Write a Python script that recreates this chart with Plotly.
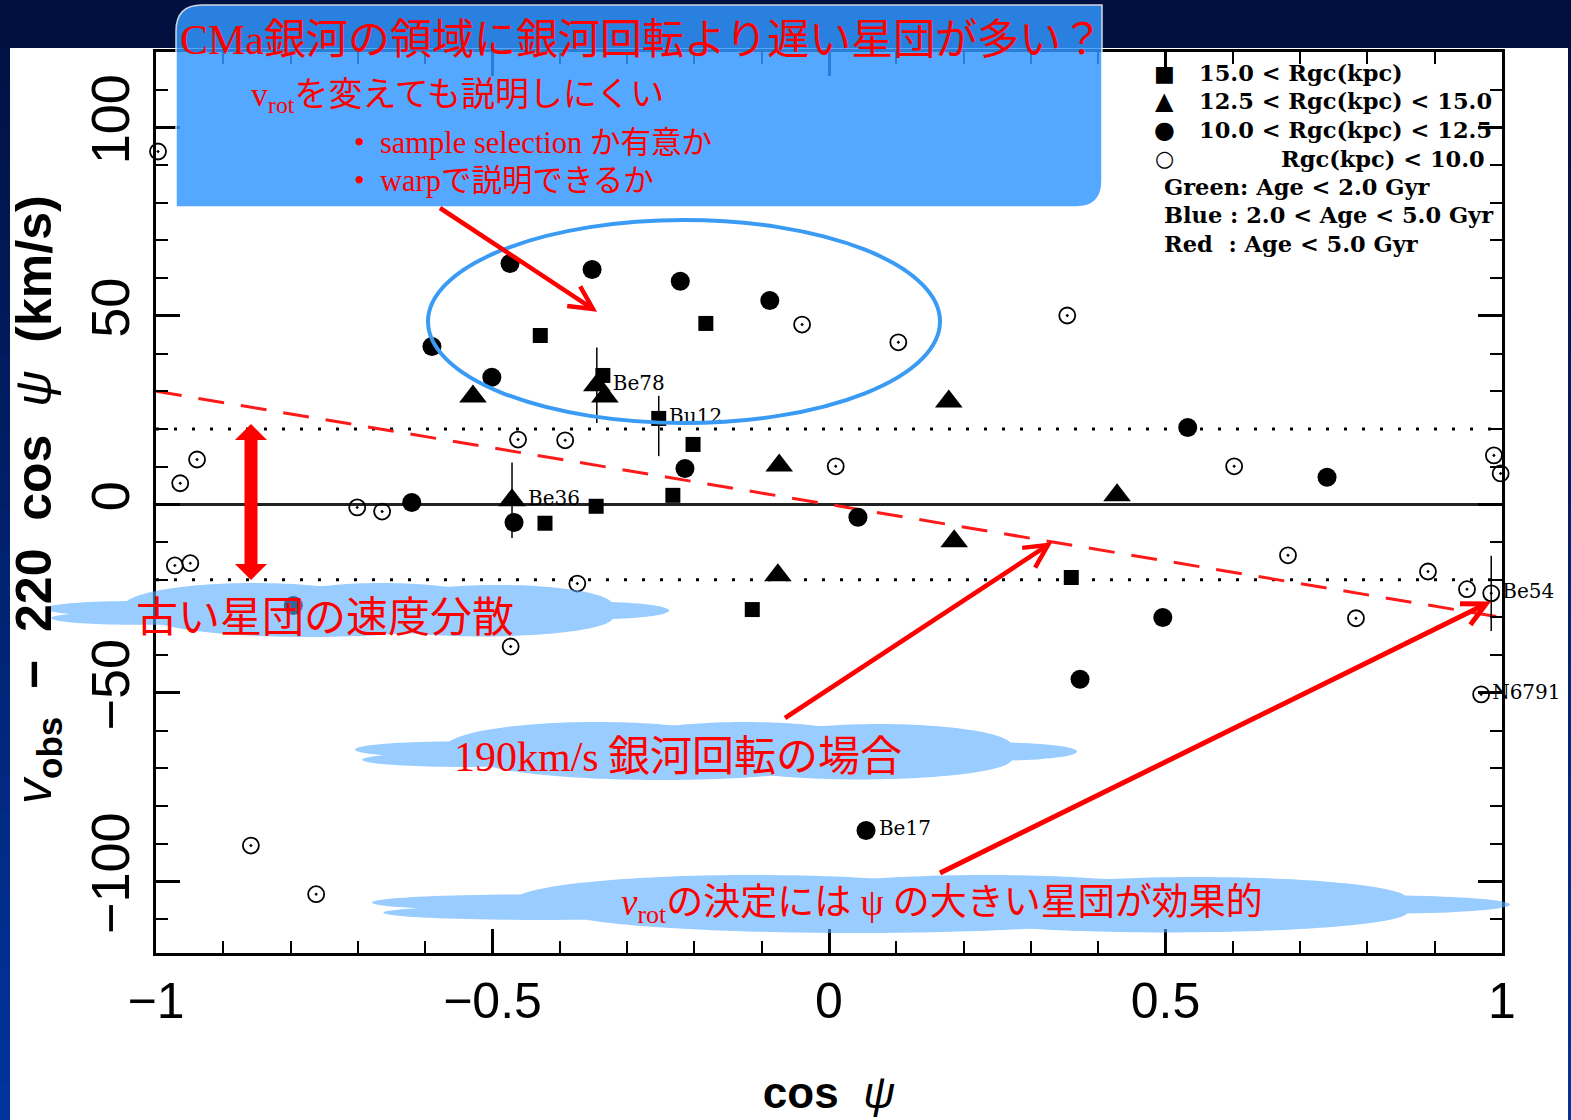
import numpy as np
import plotly.graph_objects as go

# ---------------------------------------------------------------
# Open clusters: residual velocity v_obs - 220 cos(psi) vs cos(psi)
# grouped by Galactocentric radius Rgc
# ---------------------------------------------------------------

# 15.0 < Rgc (filled squares)
far_x = [-0.429, -0.183, -0.336, -0.253, -0.202, -0.232, -0.346, -0.422, -0.114, 0.360]
far_y = [44.8, 48.0, 34.2, 22.8, 15.9, 2.4, -0.5, -5.0, -27.9, -19.4]
far_err_hi = [0, 0, 0, 6, 0, 0, 0, 0, 0, 0]
far_err_lo = [0, 0, 0, 10, 0, 0, 0, 0, 0, 0]
far_names = ["", "", "", "Bu12", "", "", "", "", "", ""]

# 12.5 < Rgc < 15.0 (filled triangles)
mid_x = [-0.529, -0.345, -0.333, -0.471, -0.074, 0.178, 0.186, 0.428, -0.076]
mid_y = [28.6, 31.6, 28.6, 1.1, 10.3, 27.3, -9.8, 2.4, -18.8]
mid_err = [0, 10, 0, 10, 0, 0, 0, 0, 0]
mid_names = ["", "Be78", "", "Be36", "", "", "", "", ""]

# 10.0 < Rgc < 12.5 (filled circles)
near_x = [-0.474, -0.352, -0.221, -0.088, -0.590, -0.501, -0.620, -0.468,
          -0.214, 0.043, 0.533, 0.740, 0.496, 0.373, -0.796, 0.055]
near_y = [63.9, 62.3, 59.2, 54.1, 41.9, 33.7, 0.5, -4.8,
          9.5, -3.4, 20.4, 7.2, -30.0, -46.4, -26.8, -86.5]
near_names = [""] * 15 + ["Be17"]

# Rgc < 10.0 (open circles)
inner_x = [-0.997, -0.964, -0.939, -0.972, -0.949, -0.701, -0.664, -0.462, -0.392,
           -0.374, -0.473, -0.859, -0.762, -0.040, 0.103, 0.010, 0.354, 0.602,
           0.682, 0.783, 0.890, 0.948, 0.988, 0.998, 0.984, 0.969]
inner_y = [93.6, 5.6, 11.9, -16.2, -15.6, -0.8, -1.9, 17.2, 17.0,
           -21.0, -37.7, -90.5, -103.4, 47.7, 43.0, 10.1, 50.1, 10.1,
           -13.5, -30.2, -17.8, -22.5, 13.0, 8.2, -23.6, -50.4]
inner_err = [0] * 24 + [10, 0]
inner_names = [""] * 24 + ["Be54", "N6791"]

# velocity dispersion band of old clusters (km/s)
disp_band = [-20, 20]

# residual expected for a 190 km/s rotation curve
model_x = [-1.0, 1.0]
model_y = [30.0, -30.0]

x_ticks = [-1, -0.5, 0, 0.5, 1]
x_ticktext = ["\u22121", "\u22120.5", "0", "0.5", "1"]
y_ticks = [-100, -50, 0, 50, 100]
y_ticktext = ["\u2212100", "\u221250", "0", "50", "100"]

key_lines = [
    ("\u25a0", "15.0 < Rgc(kpc)"),
    ("\u25b2", "12.5 < Rgc(kpc) < 15.0"),
    ("\u25cf", "10.0 < Rgc(kpc) < 12.5"),
    ("\u25cb", "Rgc(kpc) < 10.0"),
]
age_lines = ["Green: Age < 2.0 Gyr", "Blue : 2.0 < Age < 5.0 Gyr", "Red\u00a0\u00a0: Age < 5.0 Gyr"]

# ---------------------------------------------------------------
W, H = 1571, 1120
L, R, T, B = 156, 1502, 52, 953
PW, PH = R - L, B - T


def fx(px):
    return (px - L) / PW


def fy(py):
    return (B - py) / PH


def pt(px, py):
    return f"{fx(px):.5f},{fy(py):.5f}"


RED = "#FF0000"
JP_SERIF = "Liberation Serif, Noto Sans CJK JP"
JP_SANS = "Noto Sans CJK JP"

fig = go.Figure()

label_font = dict(family="DejaVu Serif", size=20, color="black")

fig.add_trace(go.Scatter(
    x=model_x, y=model_y, mode="lines",
    line=dict(color="#FF1A1A", width=3, dash="26px,17px"),
    hoverinfo="skip", showlegend=False))


def cluster_traces(xs, ys, names, marker, err=None):
    pts = go.Scatter(x=xs, y=ys, mode="markers", marker=marker, error_y=err,
                     cliponaxis=False, showlegend=False)
    idx = [i for i, n in enumerate(names) if n]
    lab = go.Scatter(x=[xs[i] for i in idx], y=[ys[i] for i in idx],
                     text=[names[i] for i in idx], mode="markers+text",
                     textposition="middle right", textfont=label_font,
                     marker=dict(size=marker["size"], opacity=0),
                     hoverinfo="skip", cliponaxis=False, showlegend=False)
    return [pts, lab]


fig.add_traces(cluster_traces(
    inner_x, inner_y, inner_names,
    dict(symbol="circle-open-dot", size=16, color="black", line=dict(width=1.8, color="black")),
    dict(type="data", array=inner_err, color="black", thickness=1.5, width=0)))

fig.add_traces(cluster_traces(
    near_x, near_y, near_names,
    dict(symbol="circle", size=19, color="black", line=dict(width=0))))

fig.add_traces(cluster_traces(
    far_x, far_y, far_names,
    dict(symbol="square", size=15, color="black", line=dict(width=0)),
    dict(type="data", symmetric=False, array=far_err_hi, arrayminus=far_err_lo,
         color="black", thickness=1.5, width=0)))

fig.add_traces(cluster_traces(
    mid_x, mid_y, mid_names,
    dict(symbol="triangle-up", size=24, color="black", line=dict(width=0)),
    dict(type="data", array=mid_err, color="black", thickness=1.5, width=0)))

shapes = []

# slide background: white panel plus a darker blue edge strip
shapes.append(dict(type="rect", xref="paper", yref="paper", layer="below",
                   x0=fx(10), x1=fx(1568), y0=fy(1120), y1=fy(48),
                   fillcolor="white", line=dict(width=0)))
n_band = 28
for i in range(n_band):
    t = i / (n_band - 1)
    c = (1, int(18 + 34 * t), int(70 + 86 * t))
    y0 = 48 + (1120 - 48) * i / n_band
    y1 = 48 + (1120 - 48) * (i + 1) / n_band + 1
    for xa, xb in [(0, 10), (1568, 1571)]:
        shapes.append(dict(type="rect", xref="paper", yref="paper", layer="below",
                           x0=fx(xa), x1=fx(xb), y0=fy(y1), y1=fy(y0),
                           fillcolor=f"rgb{c}", line=dict(width=0)))

# dispersion band edges
for v in disp_band:
    shapes.append(dict(type="line", xref="x", yref="y", layer="below",
                       x0=-1, x1=1, y0=v, y1=v,
                       line=dict(color="black", width=3, dash="3px,15px")))

# title callout box (rounded on two diagonal corners)
rr = 26
x0c, x1c, y0c, y1c = 176, 1102, 5, 207
callout = (f"M{pt(x0c + rr, y0c)} L{pt(x1c, y0c)} L{pt(x1c, y1c - rr)} "
           f"Q{pt(x1c, y1c)} {pt(x1c - rr, y1c)} L{pt(x0c, y1c)} L{pt(x0c, y0c + rr)} "
           f"Q{pt(x0c, y0c)} {pt(x0c + rr, y0c)} Z")
shapes.append(dict(type="path", xref="paper", yref="paper", layer="above", path=callout,
                   fillcolor="rgb(51,151,255)", opacity=0.83,
                   line=dict(color="white", width=1.5)))

# highlight ellipse
shapes.append(dict(type="circle", xref="paper", yref="paper", layer="above",
                   x0=fx(428), x1=fx(940), y0=fy(423), y1=fy(220),
                   line=dict(color="#3A9BF5", width=4), fillcolor="rgba(0,0,0,0)"))


# cloud-shaped labels: union outline of a few overlapping lobes
LOBES = [(-0.72, -0.05, 0.28, 0.28), (-0.70, 0.30, 0.28, 0.25), (-0.33, -0.12, 0.42, 0.88),
         (0.08, -0.22, 0.36, 0.78), (0.45, -0.18, 0.37, 0.75), (0.76, 0.02, 0.24, 0.32),
         (-0.15, 0.22, 0.52, 0.78), (0.40, 0.28, 0.42, 0.70)]


def cloud_path(cx, cy, w, h):
    ang = np.linspace(0, 2 * np.pi, 361)[:-1]
    dx, dy = np.cos(ang), np.sin(ang)
    rmax = np.zeros_like(ang)
    for ex, ey, a, b in LOBES:
        A = dx ** 2 / a ** 2 + dy ** 2 / b ** 2
        Bq = -2 * (dx * ex / a ** 2 + dy * ey / b ** 2)
        C = ex ** 2 / a ** 2 + ey ** 2 / b ** 2 - 1
        disc = Bq ** 2 - 4 * A * C
        root = np.where(disc >= 0, (-Bq + np.sqrt(np.clip(disc, 0, None))) / (2 * A), 0)
        rmax = np.maximum(rmax, root)
    px = cx + rmax * dx * w / 2
    py = cy + rmax * dy * h / 2
    return "M" + " L".join(pt(a, b) for a, b in zip(px, py)) + " Z"


for cx, cy, w, h in [(357, 610, 624, 54), (716, 751, 722, 58), (941, 904, 1138, 58)]:
    shapes.append(dict(type="path", xref="paper", yref="paper", layer="above",
                       path=cloud_path(cx, cy, w, h),
                       fillcolor="rgb(85,170,255)", opacity=0.6, line=dict(width=0)))

# vertical double-headed arrow marking the dispersion band
dbl = [(251, 424), (267, 440), (257.5, 440), (257.5, 564), (267, 564), (251, 580),
       (235, 564), (244.5, 564), (244.5, 440), (235, 440)]
shapes.append(dict(type="path", xref="paper", yref="paper", layer="above",
                   path="M" + " L".join(pt(a, b) for a, b in dbl) + " Z",
                   fillcolor=RED, line=dict(width=0)))

# chevron pointers (shaft + open head)
for (tx, ty), (sx, sy), wd in [((593, 309), (440, 208), 4.5),
                               ((1048, 545), (785, 718), 4.5),
                               ((1486, 604), (940, 873), 5)]:
    ux, uy = sx - tx, sy - ty
    n = np.hypot(ux, uy)
    ux, uy = ux / n, uy / n
    shapes.append(dict(type="path", xref="paper", yref="paper", layer="above",
                       path=f"M{pt(sx, sy)} L{pt(tx + ux * 3, ty + uy * 3)}",
                       line=dict(color=RED, width=wd)))
    arm = 26
    ang = np.deg2rad(27)
    ca, sa = np.cos(ang), np.sin(ang)
    a1 = (tx + arm * (ux * ca - uy * sa), ty + arm * (ux * sa + uy * ca))
    a2 = (tx + arm * (ux * ca + uy * sa), ty + arm * (-ux * sa + uy * ca))
    shapes.append(dict(type="path", xref="paper", yref="paper", layer="above",
                       path=f"M{pt(*a1)} L{pt(tx, ty)} L{pt(*a2)}",
                       line=dict(color=RED, width=wd)))

ann = []


def text_at(px, py, txt, size, family, color=RED, anchor="left", angle=0):
    ann.append(dict(xref="paper", yref="paper", x=fx(px), y=fy(py), text=txt,
                    showarrow=False, xanchor=anchor, yanchor="middle", textangle=angle,
                    font=dict(family=family, size=size, color=color)))


# y-axis title, set vertically alongside the tick labels
text_at(38, 500, "<i>v</i><sub><b>obs</b></sub>  <b>−  220  cos</b>  <i>ψ</i>  <b>(km/s)</b>",
        50, "Liberation Sans", color="black", anchor="center", angle=-90)

text_at(178, 40, "CMa銀河の領域に銀河回転より遅い星団が多い？", 42, JP_SERIF)
text_at(249, 97, "v<sub>rot</sub>を変えても説明しにくい", 34, JP_SERIF)
text_at(352, 143, "•  sample selection か有意か", 30.5, JP_SERIF)
text_at(352, 181, "•  warpで説明できるか", 30.5, JP_SERIF)

text_at(325, 613, "古い星団の速度分散", 42, JP_SANS, anchor="center")
text_at(678, 752, "<span style='font-family:Liberation Serif'>190km/s</span> 銀河回転の場合", 42, JP_SANS, anchor="center")
text_at(942, 905, "<i><span style='font-family:Liberation Serif'>v</span></i><sub>rot</sub>の決定には ψ の大きい星団が効果的", 37, JP_SERIF, anchor="center")

# key for the marker symbols and colour coding
KEY_FONT = "DejaVu Serif"
key_sym_size = [22, 24, 24, 22]
for i, (sym, lab) in enumerate(key_lines):
    yy = 73 + i * 28.5
    text_at(1164, yy, sym, key_sym_size[i], "DejaVu Sans", color="black", anchor="center")
    text_at(1197 if i < 3 else 1279, yy, "<b>" + lab + "</b>", 22.5, KEY_FONT, color="black")
for i, lab in enumerate(age_lines):
    text_at(1162, 187 + i * 28.3, "<b>" + lab + "</b>", 22.5, KEY_FONT, color="black")

tick_common = dict(showline=True, linecolor="black", linewidth=3, mirror="ticks",
                   ticks="inside", ticklen=24, tickwidth=2.5, tickcolor="black",
                   showgrid=False)

fig.update_layout(
    width=W, height=H,
    margin=dict(l=L, r=W - R, t=T, b=H - B, autoexpand=False),
    paper_bgcolor="#01103F", plot_bgcolor="white",
    shapes=shapes, annotations=ann, showlegend=False,
    xaxis=dict(range=[-1, 1], tickvals=x_ticks, ticktext=x_ticktext, zeroline=False,
               ticklabelstandoff=2,
               tickfont=dict(family="Liberation Sans", size=50, color="black"),
               minor=dict(dtick=0.1, tick0=0, ticks="inside", ticklen=12, tickwidth=2, tickcolor="black"),
               title=dict(text="<b>cos</b>  <i>ψ</i>", standoff=50,
                          font=dict(family="Liberation Sans", size=44, color="black")),
               **tick_common),
    yaxis=dict(range=[-119, 120], tickvals=y_ticks, ticktext=y_ticktext, tickangle=-90,
               zeroline=True, zerolinecolor="#222222", zerolinewidth=3,
               ticklabelstandoff=2,
               tickfont=dict(family="Liberation Sans", size=54, color="black"),
               minor=dict(dtick=10, tick0=0, ticks="inside", ticklen=12, tickwidth=2, tickcolor="black"),
               **tick_common),
)

fig.write_html("out.html")
